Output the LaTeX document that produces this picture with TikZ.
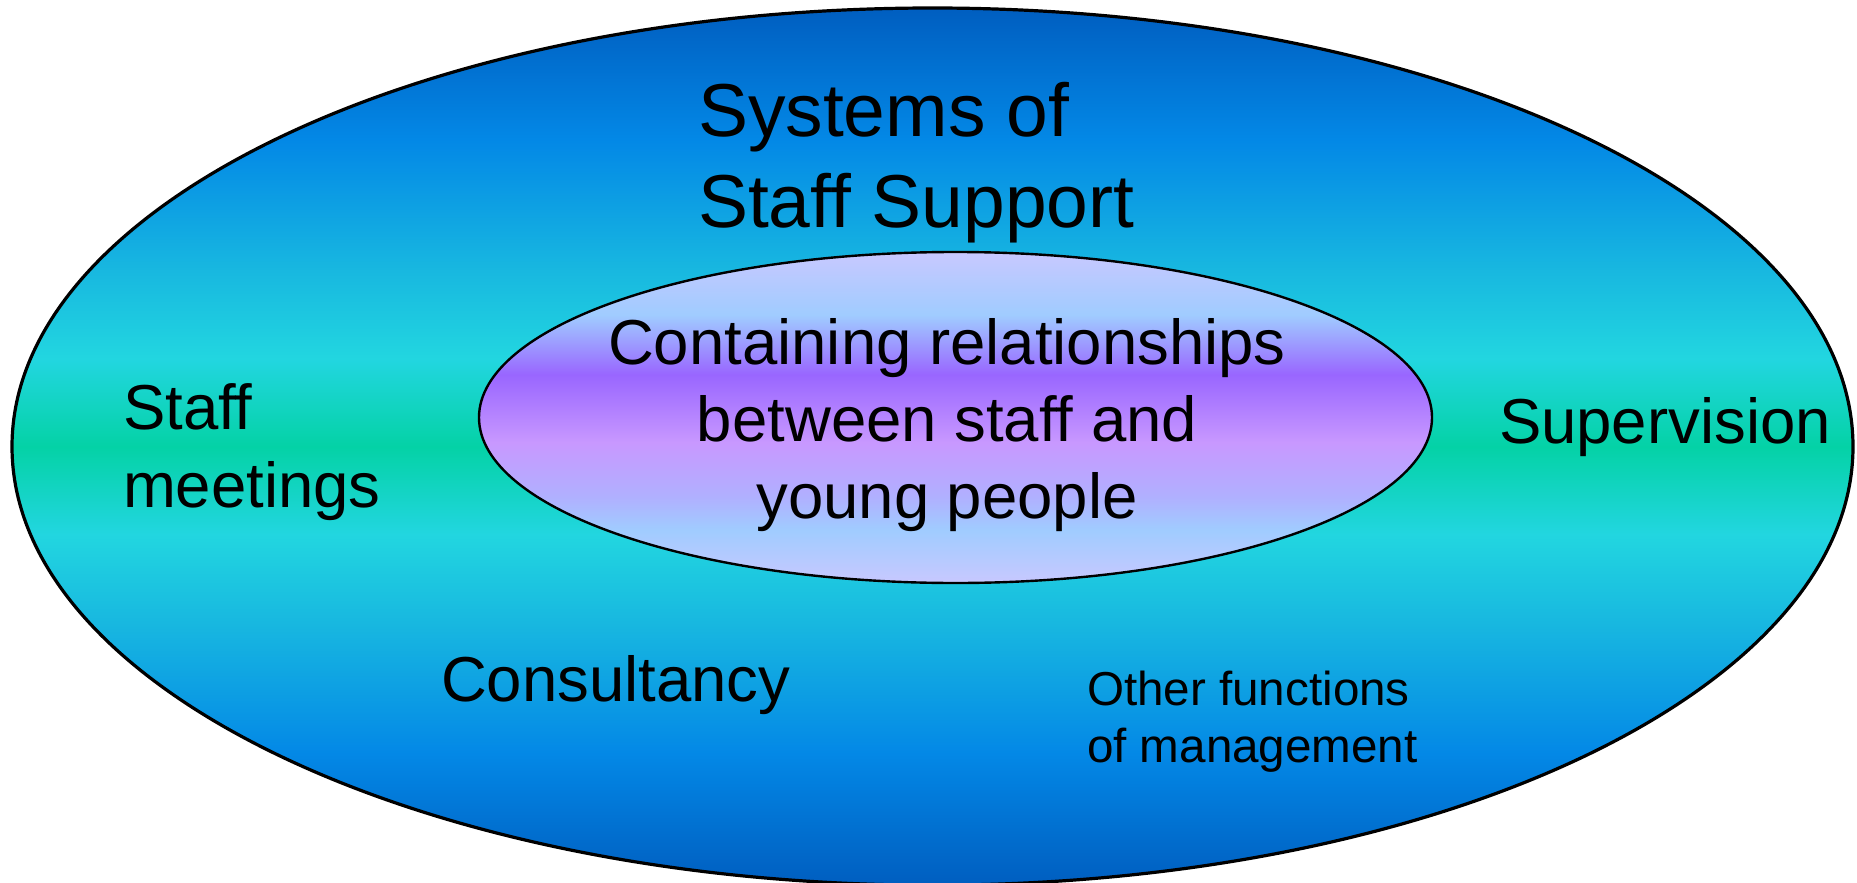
\documentclass[tikz,border=0pt]{standalone}
\usepackage{fontspec}
\setmainfont{Liberation Sans}[Ligatures=CommonOff]
\usetikzlibrary{shapes.geometric}

% outer ring: deep blue at the rim, teal through the middle
\definecolor{rimblue}{HTML}{005EC0}
\definecolor{midblue}{HTML}{0388E6}
\definecolor{skyblue}{HTML}{18B8E0}
\definecolor{cyanband}{HTML}{22D6E0}
\definecolor{teal}{HTML}{04D2A6}
% inner core: lavender, light blue and violet bands
\definecolor{lavender}{HTML}{C8C8FF}
\definecolor{paleblue}{HTML}{A0CCFF}
\definecolor{violet}{HTML}{9966FF}
\definecolor{lilac}{HTML}{C898FF}
\definecolor{periwinkle}{HTML}{B0B0FF}

% colour positions run from the bottom (25bp) to the top (75bp) of the shape
\pgfdeclareverticalshading{outerfill}{100bp}{%
  color(0bp)=(rimblue); color(25bp)=(rimblue); color(32.5bp)=(midblue);
  color(40bp)=(skyblue); color(45bp)=(cyanband); color(50bp)=(teal);
  color(55bp)=(cyanband); color(60bp)=(skyblue); color(67.5bp)=(midblue);
  color(75bp)=(rimblue); color(100bp)=(rimblue)}
\pgfdeclareverticalshading{innerfill}{100bp}{%
  color(0bp)=(lavender); color(25bp)=(lavender); color(33bp)=(paleblue);
  color(38bp)=(periwinkle); color(46.25bp)=(lilac); color(56.5bp)=(violet);
  color(65.5bp)=(paleblue); color(75bp)=(lavender); color(100bp)=(lavender)}

\tikzset{
  ring/.style={ellipse, draw=black, inner sep=0pt, outer sep=0pt},
  label/.style={inner sep=0pt, outer sep=0pt, text=black},
  bigtext/.style={label, font=\fontsize{31.75}{39}\selectfont},
  titletext/.style={label, align=left, font=\fontsize{37.5}{45}\selectfont},
  smalltext/.style={label, align=left, font=\fontsize{23.8}{28.5}\selectfont},
}

\begin{document}
\begin{tikzpicture}[x=0.5pt, y=-0.5pt]
  \useasboundingbox (0,0) rectangle (1857,883);

  % the two nested ellipses
  \node[ring, line width=1.6pt, shading=outerfill,
        minimum width=920.5pt, minimum height=438.6pt] (systems) at (932.5,446.6) {};
  \node[ring, line width=1.2pt, shading=innerfill,
        minimum width=476.5pt, minimum height=165.5pt] (core) at (955.5,417.5) {};

  % labels (multi-line nodes sit on the baseline of their last line)
  \node[titletext, anchor=base west] (title) at (698,227) {Systems of\\Staff Support};
  \node[bigtext, align=center, anchor=base, font=\fontsize{31.75}{38.5}\selectfont]
       (containing) at (947,518)
       {Containing relationships\\between staff and\\young people};
  \node[bigtext, align=left, anchor=base west] (meetings) at (123,507) {Staff\\meetings};
  \node[bigtext, anchor=base west] (supervision) at (1499,443) {Supervision};
  \node[bigtext, anchor=base west] (consultancy) at (441,701) {Consultancy};
  \node[smalltext, anchor=base west] (management) at (1087,762)
       {Other functions\\of management};
\end{tikzpicture}
\end{document}
